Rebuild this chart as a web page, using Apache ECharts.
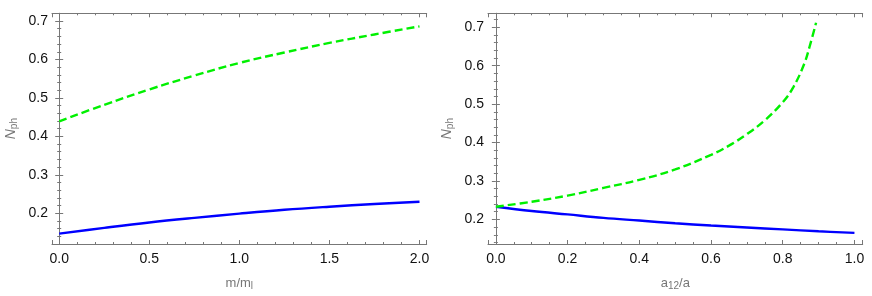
<!DOCTYPE html>
<html>
<head>
<meta charset="utf-8">
<script src="https://cdn.jsdelivr.net/npm/echarts@6/dist/echarts.min.js"></script>
<style>
html,body{margin:0;padding:0;background:#fff;}
#chart{width:872px;height:296px;}
</style>
</head>
<body>
<div id="chart"></div>
<script>
// Left panel: N_ph vs m/m_l
const leftX = [0, 0.25, 0.5, 0.75, 1.0, 1.25, 1.5, 1.75, 2.0];
const leftGreen = [0.439, 0.482, 0.522, 0.558, 0.591, 0.618, 0.643, 0.665, 0.686];
const leftBlue = [0.147, 0.162, 0.176, 0.188, 0.199, 0.209, 0.217, 0.224, 0.230];

// Right panel: N_ph vs a_12/a
const rightGreenX = [0, 0.1, 0.2, 0.3, 0.4, 0.5, 0.6, 0.65, 0.7, 0.75, 0.8, 0.83, 0.86, 0.875, 0.893];
const rightGreen = [0.233, 0.246, 0.262, 0.282, 0.303, 0.330, 0.368, 0.392, 0.422, 0.458, 0.505, 0.545, 0.605, 0.650, 0.712];
const rightBlueX = [0, 0.1, 0.2, 0.3, 0.4, 0.5, 0.6, 0.7, 0.8, 0.9, 1.0];
const rightBlue = [0.233, 0.222, 0.213, 0.204, 0.197, 0.190, 0.184, 0.179, 0.174, 0.169, 0.165];

const xTitleLeft = '{u|m/m}{sub|l}';
const xTitleRight = '{u|a}{sub|12}{u|/a}';
const yTitle = '{i|N}{sub|ph}';

const FRAME = '#777777';
const FONT = 'Liberation Sans, Arial, sans-serif';

function pairs(xs, ys) { return xs.map((x, i) => [x, ys[i]]); }

const titleRich = {
  u: {fontFamily: FONT, fontSize: 13, color: '#777', lineHeight: 16},
  i: {fontFamily: FONT, fontSize: 14, color: '#777', fontStyle: 'italic', lineHeight: 16},
  sub: {fontFamily: FONT, fontSize: 10, color: '#777', lineHeight: 6, verticalAlign: 'bottom'}
};

function mkAxis(opts) {
  return Object.assign({
    type: 'value',
    scale: true,
    axisLine: {show: true, lineStyle: {color: FRAME, width: 1}},
    axisTick: {show: true, inside: true, length: 4, lineStyle: {color: FRAME}},
    splitLine: {show: false},
    minorSplitLine: {show: false}
  }, opts);
}

function labels(margin) {
  return {show: true, color: '#111', fontSize: 14, fontFamily: FONT, margin: margin,
    showMinLabel: false, showMaxLabel: false, formatter: v => v.toFixed(1)};
}
function minor(n) {
  return {show: true, splitNumber: n, length: 2, lineStyle: {color: FRAME}};
}

const xLeftMin = -0.04, xLeftMax = 2.04;
const yLeftMin = 0.12, yLeftMax = 0.72;
const xRightMin = -0.022, xRightMax = 1.023;
const yRightMin = 0.136, yRightMax = 0.7365;

const option = {
  animation: false,
  backgroundColor: '#fff',
  grid: [
    {left: 52, right: 445.3, top: 13.3, bottom: 51},
    {left: 488, right: 9.3, top: 13.3, bottom: 51}
  ],
  xAxis: [
    mkAxis({gridIndex: 0, position: 'bottom', min: xLeftMin, max: xLeftMax, splitNumber: 5,
      minorTick: minor(5), axisLabel: labels(8),
      name: xTitleLeft, nameLocation: 'middle', nameGap: 31, nameTextStyle: {rich: titleRich}}),
    mkAxis({gridIndex: 0, position: 'top', min: xLeftMin, max: xLeftMax, splitNumber: 5,
      minorTick: minor(5), axisLabel: {show: false}}),
    mkAxis({gridIndex: 1, position: 'bottom', min: xRightMin, max: xRightMax, splitNumber: 5,
      minorTick: minor(4), axisLabel: labels(8),
      name: xTitleRight, nameLocation: 'middle', nameGap: 31, nameTextStyle: {rich: titleRich}}),
    mkAxis({gridIndex: 1, position: 'top', min: xRightMin, max: xRightMax, splitNumber: 5,
      minorTick: minor(4), axisLabel: {show: false}})
  ],
  yAxis: [
    mkAxis({gridIndex: 0, position: 'left', min: yLeftMin, max: yLeftMax, splitNumber: 6,
      minorTick: minor(5), axisLabel: labels(4),
      name: yTitle, nameLocation: 'middle', nameGap: 33, nameRotate: 90, nameTextStyle: {rich: titleRich}}),
    mkAxis({gridIndex: 0, position: 'right', min: yLeftMin, max: yLeftMax, splitNumber: 6,
      minorTick: minor(5), axisLabel: {show: false}}),
    mkAxis({gridIndex: 1, position: 'left', min: yRightMin, max: yRightMax, splitNumber: 6,
      minorTick: minor(5), axisLabel: labels(4),
      name: yTitle, nameLocation: 'middle', nameGap: 33, nameRotate: 90, nameTextStyle: {rich: titleRich}}),
    mkAxis({gridIndex: 1, position: 'right', min: yRightMin, max: yRightMax, splitNumber: 6,
      minorTick: minor(5), axisLabel: {show: false}})
  ],
  series: [
    {type: 'line', xAxisIndex: 0, yAxisIndex: 0, data: pairs(leftX, leftGreen), showSymbol: false, smooth: 0.4,
      lineStyle: {color: '#00f000', width: 2.4, type: [8, 4]}},
    {type: 'line', xAxisIndex: 0, yAxisIndex: 0, data: pairs(leftX, leftBlue), showSymbol: false, smooth: 0.4,
      lineStyle: {color: '#0000ff', width: 2.4}},
    {type: 'line', xAxisIndex: 2, yAxisIndex: 2, data: pairs(rightBlueX, rightBlue), showSymbol: false, smooth: 0.4,
      lineStyle: {color: '#0000ff', width: 2.4}},
    {type: 'line', xAxisIndex: 2, yAxisIndex: 2, data: pairs(rightGreenX, rightGreen), showSymbol: false, smooth: 0.4,
      lineStyle: {color: '#00f000', width: 2.4, type: [8, 4]}}
  ]
};

const chart = echarts.init(document.getElementById('chart'), null, {renderer: 'canvas'});
chart.setOption(option);
</script>
</body>
</html>
